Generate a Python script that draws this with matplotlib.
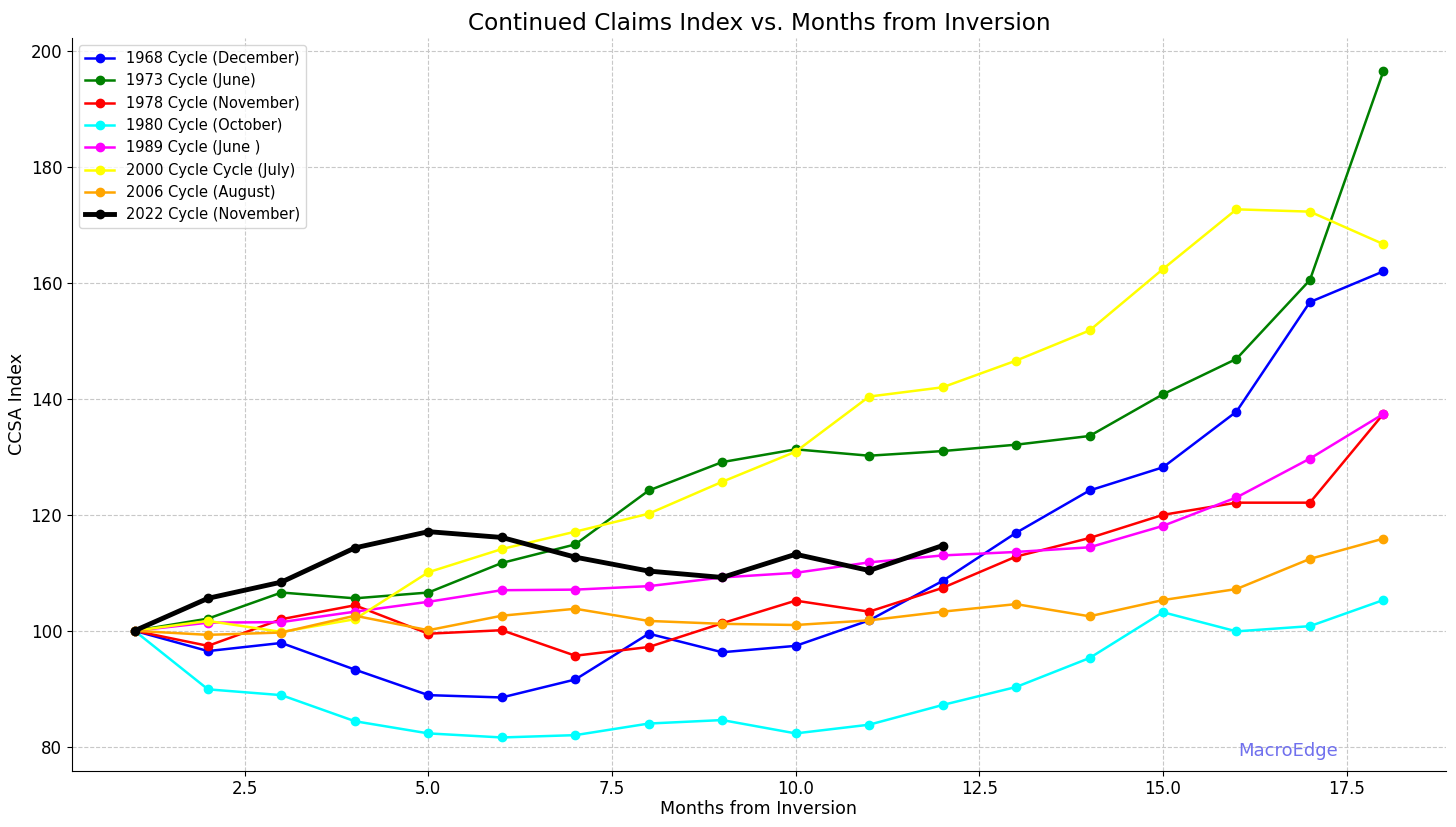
import numpy as np
import matplotlib.pyplot as plt

# Months from inversion
months = np.arange(1, 19)

# CCSA index per cycle
c1968 = [100, 96.5, 97.9, 93.3, 88.9, 88.5, 91.6, 99.5, 96.3, 97.4, 101.8, 108.6, 116.9, 124.2, 128.2, 137.8, 156.7, 162.0]
c1973 = [100, 102.1, 106.6, 105.6, 106.6, 111.7, 114.9, 124.2, 129.1, 131.3, 130.2, 131.0, 132.1, 133.6, 140.8, 146.9, 160.5, 196.5]
c1978 = [100, 97.4, 102.0, 104.4, 99.5, 100.1, 95.7, 97.2, 101.3, 105.2, 103.3, 107.4, 112.8, 116.0, 120.0, 122.1, 122.1, 137.4]
c1980 = [100, 89.9, 88.9, 84.4, 82.3, 81.6, 82.0, 84.0, 84.6, 82.3, 83.8, 87.2, 90.3, 95.3, 103.2, 99.9, 100.8, 105.3]
c1989 = [100, 101.4, 101.5, 103.3, 105.0, 107.0, 107.1, 107.7, 109.2, 110.0, 111.8, 113.0, 113.6, 114.4, 118.1, 123.0, 129.7, 137.4]
c2000 = [100, 101.7, 99.8, 102.0, 110.1, 114.1, 117.1, 120.2, 125.7, 130.9, 140.4, 142.0, 146.6, 151.8, 162.4, 172.7, 172.3, 166.7]
c2006 = [100, 99.3, 99.7, 102.6, 100.1, 102.6, 103.8, 101.7, 101.2, 101.0, 101.8, 103.3, 104.6, 102.5, 105.3, 107.2, 112.4, 115.9]
c2022 = [100, 105.6, 108.4, 114.3, 117.1, 116.1, 112.7, 110.3, 109.2, 113.2, 110.4, 114.7]

labels = ['1968 Cycle (December)', '1973 Cycle (June)', '1978 Cycle (November)',
          '1980 Cycle (October)', '1989 Cycle (June )', '2000 Cycle Cycle (July)',
          '2006 Cycle (August)', '2022 Cycle (November)']
series = [c1968, c1973, c1978, c1980, c1989, c2000, c2006, c2022]
colors = ['blue', 'green', 'red', 'cyan', 'magenta', 'yellow', 'orange', 'black']

fig = plt.figure(figsize=(14.56, 8.27), dpi=100)
ax = fig.add_axes([0.0495, 0.068, 0.9435, 0.886])

for vals, lab, col in zip(series, labels, colors):
    lw = 3.5 if col == 'black' else 1.8
    ax.plot(months[:len(vals)], vals, marker='o', markersize=6, linewidth=lw,
            color=col, label=lab)

ax.set_title('Continued Claims Index vs. Months from Inversion', fontsize=16.7)
ax.set_xlabel('Months from Inversion', fontsize=12.6, labelpad=1)
ax.set_ylabel('CCSA Index', fontsize=12.6, labelpad=3)
ax.tick_params(labelsize=12)
ax.set_yticks([80, 100, 120, 140, 160, 180, 200])
ax.grid(True, linestyle='--', color='#c8c8c8', linewidth=0.8)
ax.spines['top'].set_visible(False)
ax.spines['right'].set_visible(False)
ax.legend(loc='upper left', fontsize=10.5)

ax.text(0.885, 0.027, 'MacroEdge', transform=ax.transAxes, fontsize=13,
        color='#7070ee', ha='center', va='center')

fig.savefig('out.png', dpi=100)
